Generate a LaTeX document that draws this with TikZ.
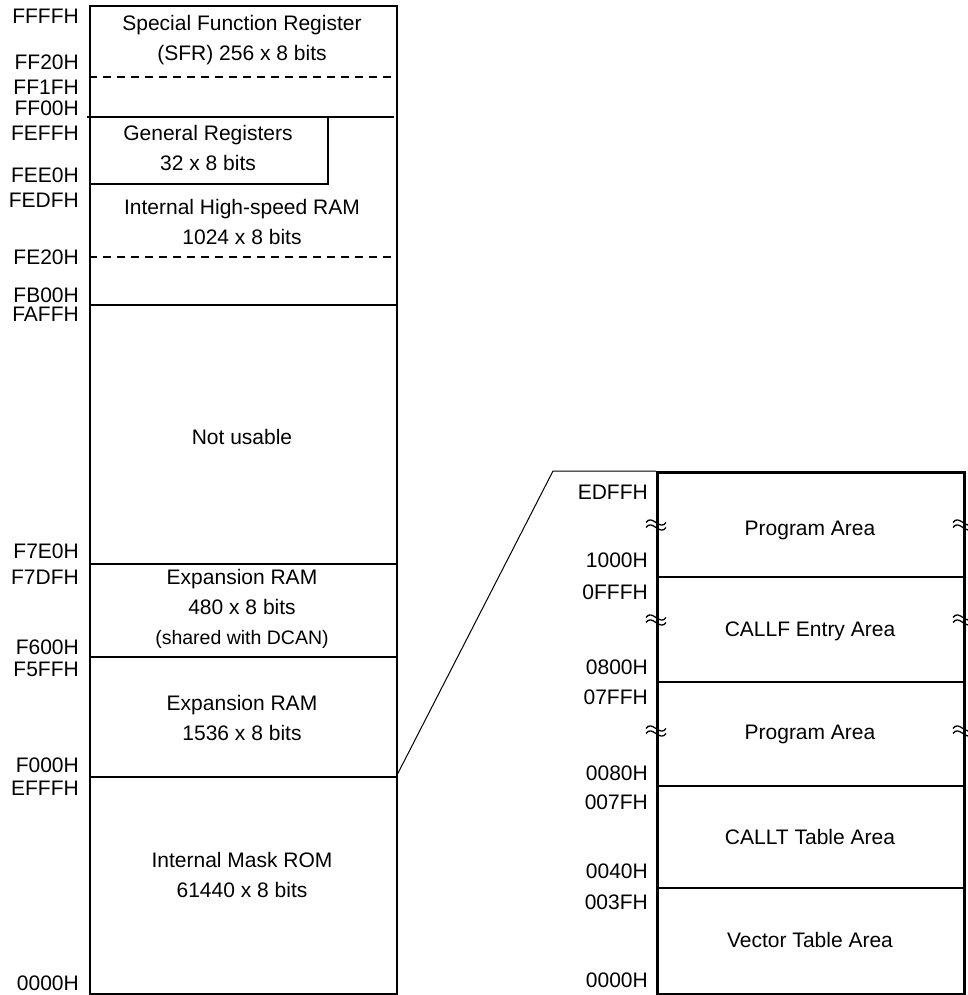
\documentclass[tikz,border=0pt]{standalone}
\usepackage{fontspec}
\setmainfont{Liberation Sans}
\begin{document}
\begin{tikzpicture}[x=1pt,y=-1pt,
  txt/.style={inner sep=0pt, text height=15pt, text depth=0pt, font=\fontsize{21}{25}\selectfont},
  smalltxt/.style={inner sep=0pt, text height=14pt, text depth=0pt, font=\fontsize{19.5}{23}\selectfont},
  addr/.style={txt, anchor=east},
  outerbox/.style={draw, line width=2pt, inner sep=0pt, anchor=north west},
  innerline/.style={line width=1.2pt},
  dashline/.style={line width=1.2pt, dash pattern=on 8pt off 6pt},
  link/.style={line width=1pt},
  brk/.pic={
    \draw[line width=1.3pt] (-10,-2.5) .. controls (-4,-11.5) and (4,6.5) .. (10,-2.5);
    \draw[line width=1.3pt] (-10,2.5) .. controls (-4,-6.5) and (4,11.5) .. (10,2.5);
  }]
\useasboundingbox (0,0) rectangle (967,995);

% ---------- left memory map ----------
\node[outerbox, minimum width=307pt, minimum height=988pt] (mapL) at (89,5) {};
\draw[dashline] (89,77) -- (396,77);
\draw[innerline] (87,117) -- (394,117);
\draw[innerline] (89,184) -- (328,184) -- (328,117);
\draw[dashline] (89,257) -- (396,257);
\draw[innerline] (89,305) -- (396,305);
\draw[innerline] (89,564) -- (396,564);
\draw[innerline] (89,657) -- (396,657);
\draw[innerline] (89,777) -- (396,777);

\node[txt] (sfra) at (242,23) {Special Function Register};
\node[txt] (sfrb) at (242,53) {(SFR) 256 x 8 bits};
\node[txt] (gra) at (208,133) {General Registers};
\node[txt] (grb) at (208,163) {32 x 8 bits};
\node[txt] (hsa) at (242,207) {Internal High-speed RAM};
\node[txt] (hsb) at (242,237) {1024 x 8 bits};
\node[txt] (nu) at (242,437) {Not usable};
\node[txt] (exa) at (242,577) {Expansion RAM};
\node[txt] (exb) at (242,607) {480 x 8 bits};
\node[smalltxt] (exc) at (242,637) {(shared with DCAN)};
\node[txt] (eya) at (242,703) {Expansion RAM};
\node[txt] (eyb) at (242,733) {1536 x 8 bits};
\node[txt] (roma) at (242,860) {Internal Mask ROM};
\node[txt] (romb) at (242,890) {61440 x 8 bits};

\node[addr] (l1) at (79,16) {FFFFH};
\node[addr] (l2) at (79,62) {FF20H};
\node[addr] (l3) at (79,87) {FF1FH};
\node[addr] (l4) at (79,108) {FF00H};
\node[addr] (l5) at (79,133) {FEFFH};
\node[addr] (l6) at (79,175) {FEE0H};
\node[addr] (l7) at (79,200) {FEDFH};
\node[addr] (l8) at (79,257) {FE20H};
\node[addr] (l9) at (79,295) {FB00H};
\node[addr] (l10) at (79,314) {FAFFH};
\node[addr] (l11) at (79,551) {F7E0H};
\node[addr] (l12) at (79,577) {F7DFH};
\node[addr] (l13) at (79,647) {F600H};
\node[addr] (l14) at (79,669) {F5FFH};
\node[addr] (l15) at (79,765) {F000H};
\node[addr] (l16) at (79,788) {EFFFH};
\node[addr] (l17) at (79,983) {0000H};

% ---------- right (ROM detail) ----------
\node[outerbox, line width=2.5pt, minimum width=307pt, minimum height=522pt] (mapR) at (656,471) {};
\draw[innerline] (656,577) -- (963,577);
\draw[innerline] (656,682) -- (963,682);
\draw[innerline] (656,786) -- (963,786);
\draw[innerline] (656,888) -- (963,888);

\coordinate (romtop) at (396,777);
\coordinate (bend) at (553,471);
\draw[link] (romtop) -- (bend) -- (mapR.north west);

\foreach \yy in {525,620,731} {
  \pic at (656,\yy) {brk};
  \pic at (963,\yy) {brk};
}

\node[txt] (ra) at (810,528) {Program Area};
\node[txt] (rb) at (810,629) {CALLF Entry Area};
\node[txt] (rc) at (810,732) {Program Area};
\node[txt] (rd) at (810,837) {CALLT Table Area};
\node[txt] (re) at (810,940) {Vector Table Area};

\node[addr] (r1) at (648,492) {EDFFH};
\node[addr] (r2) at (648,560) {1000H};
\node[addr] (r3) at (648,592) {0FFFH};
\node[addr] (r4) at (648,667) {0800H};
\node[addr] (r5) at (648,697) {07FFH};
\node[addr] (r6) at (648,773) {0080H};
\node[addr] (r7) at (648,802) {007FH};
\node[addr] (r8) at (648,871) {0040H};
\node[addr] (r9) at (648,902) {003FH};
\node[addr] (r10) at (648,980) {0000H};
\end{tikzpicture}
\end{document}
